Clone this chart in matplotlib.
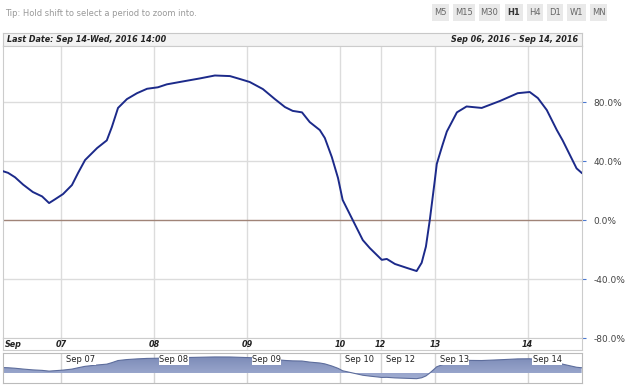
import numpy as np
import matplotlib.pyplot as plt
from matplotlib.patches import Rectangle
from matplotlib.colors import LinearSegmentedColormap
from matplotlib.transforms import blended_transform_factory

# hours since start of chart (Sep 06) and oscillator value in %
hours = [0.1, 1.3, 3.1, 5.2, 7.7, 10.1, 11.9, 13.4, 15.5, 17.8, 19.4, 21.2, 24.3, 26.8,
         28.1, 29.7, 32.0, 34.6, 37.2, 40.0, 42.3, 46.5, 50.8, 54.7, 58.6, 61.2, 63.7,
         67.1, 70.2, 72.8, 74.8, 77.2, 79.2, 81.8, 83.1, 84.9, 86.5, 87.7, 90.3, 92.9,
         94.7, 97.8, 99.1, 101.2, 104.3, 106.8, 108.1, 109.2, 110.2, 111.5, 112.0, 112.8,
         113.5, 114.6, 117.2, 119.7, 123.6, 128.3, 132.9, 136.0, 138.1, 140.4, 143.0,
         144.5, 148.1, 149.4]
values = [33, 32, 29, 24, 19, 16, 11.5, 14, 17.6, 23.7, 32, 40.7, 48.8, 54,
          63, 76, 82, 86, 89, 90, 92, 94, 96, 98, 97.6, 95.6, 93.6,
          88.8, 82, 76.6, 74, 73, 66.4, 61, 55.6, 42.7, 28.5, 13.6, 0, -13.6,
          -19, -27, -26.4, -29.8, -32.5, -34.6, -29, -18, 0, 27, 38, 45,
          51, 60, 73, 77, 76, 80.7, 86, 86.8, 82.7, 74.6, 61,
          54, 35, 32]

day_pos = [15, 39, 63, 87, 97.5, 111.5, 135.5]
day_labels = ['07', '08', '09', '10', '12', '13', '14']
nav_labels = ['Sep 07', 'Sep 08', 'Sep 09', 'Sep 10', 'Sep 12', 'Sep 13', 'Sep 14']
yticks = [-80, -40, 0, 40, 80]
buttons = ['M5', 'M15', 'M30', 'H1', 'H4', 'D1', 'W1', 'MN']
button_left = [432, 453, 479, 505, 527, 547, 567, 590]
button_right = [449, 475, 500, 523, 543, 563, 586, 607]

W, H = 625, 386
plt.rcParams['font.family'] = ['DejaVu Sans']
fig = plt.figure(figsize=(W / 100, H / 100), dpi=100)
fig.patch.set_facecolor('white')


def box(x0, y0, x1, y1):
    return [x0 / W, 1 - y1 / H, (x1 - x0) / W, (y1 - y0) / H]


# toolbar text and buttons
fig.text(5 / W, 1 - 14 / H, 'Tip: Hold shift to select a period to zoom into.',
         fontsize=6, color='#999999', va='center')
for b, x0, x1 in zip(buttons, button_left, button_right):
    fig.patches.append(Rectangle((x0 / W, 1 - 21 / H), (x1 - x0) / W, 17 / H,
                                 transform=fig.transFigure, facecolor='#e9e9e9',
                                 edgecolor='none'))
    fig.text((x0 + x1) / 2 / W, 1 - 12.8 / H, b, fontsize=6, ha='center', va='center',
             color='#333333' if b == 'H1' else '#666666',
             fontweight='bold' if b == 'H1' else 'normal')

# header band
hdr = fig.add_axes(box(3, 33, 582, 46))
hdr.set_xticks([])
hdr.set_yticks([])
hdr.set_facecolor('#f3f3f3')
for s in hdr.spines.values():
    s.set_color('#c8c8c8')
    s.set_linewidth(0.8)
hdr.text(0.007, 0.5, 'Last Date: Sep 14-Wed, 2016 14:00', transform=hdr.transAxes,
         fontsize=5.8, fontweight='bold', fontstyle='italic', va='center', color='#222222')
hdr.text(0.993, 0.5, 'Sep 06, 2016 - Sep 14, 2016', transform=hdr.transAxes,
         fontsize=5.8, fontweight='bold', fontstyle='italic', va='center', ha='right',
         color='#222222')

# main chart
ax = fig.add_axes(box(3, 46, 582, 338))
ax.set_xlim(0, 149.5)
ax.set_ylim(-80, 118)
for d in day_pos:
    ax.axvline(d, color='#dcdcdc', lw=1, zorder=1)
for v in [80, 40, -40]:
    ax.axhline(v, color='#dcdcdc', lw=1, zorder=1)
ax.axhline(0, color='#a08478', lw=1, zorder=1)
ax.plot(hours, values, color='#1c2a8a', lw=1.4, zorder=3)
ax.set_xticks([])
ax.yaxis.tick_right()
ax.set_yticks(yticks)
ax.set_yticklabels([f'{v:.1f}%' for v in yticks])
ax.tick_params(axis='y', direction='out', length=3, width=0.8, color='#4a78d0',
               labelsize=6.5, labelcolor='#444444', pad=5)
for s in ax.spines.values():
    s.set_color('#cccccc')
    s.set_linewidth(0.8)

# date label row
lab = fig.add_axes(box(3, 338, 582, 350))
lab.set_xlim(0, 149.5)
lab.set_ylim(0, 1)
lab.set_xticks([])
lab.set_yticks([])
for s in lab.spines.values():
    s.set_color('#cccccc')
    s.set_linewidth(0.8)
for d in day_pos:
    lab.axvline(d, color='#e4e4e4', lw=1)
lab.text(0.6, 0.45, 'Sep', fontsize=5.8, fontweight='bold', fontstyle='italic',
         va='center', color='#222222')
for d, t in zip(day_pos, day_labels):
    lab.text(d, 0.45, t, fontsize=5.8, fontweight='bold', fontstyle='italic',
             va='center', ha='center', color='#222222')

# navigator
nav = fig.add_axes(box(3, 353, 582, 383))
nav.set_xlim(0, 149.5)
nav.set_ylim(-61, 122)
nav.set_xticks([])
nav.set_yticks([])
for s in nav.spines.values():
    s.set_color('#bbbbbb')
    s.set_linewidth(0.8)
for d in day_pos:
    nav.axvline(d, color='#d4d4d4', lw=1, zorder=0)
poly = nav.fill_between(hours, values, 0, color='none', lw=0, zorder=1)
grad = LinearSegmentedColormap.from_list('nav', ['#a4b0d4', '#7d8cb8'])
img = nav.imshow(np.linspace(0, 1, 100).reshape(-1, 1), cmap=grad, aspect='auto',
                 extent=[0, 149.5, -40, 100], origin='lower', zorder=1)
img.set_clip_path(poly.get_paths()[0], transform=nav.transData)
nav.plot(hours, values, color='#5d6d9c', lw=0.8, zorder=2)
trans = blended_transform_factory(nav.transData, nav.transAxes)
for d, t in zip(day_pos, nav_labels):
    nav.text(d + 1.3, 0.93, t, transform=trans, fontsize=6, va='top', color='#222222',
             zorder=3, bbox=dict(facecolor='white', edgecolor='none', pad=0.3))

fig.savefig('out.png', dpi=100)
